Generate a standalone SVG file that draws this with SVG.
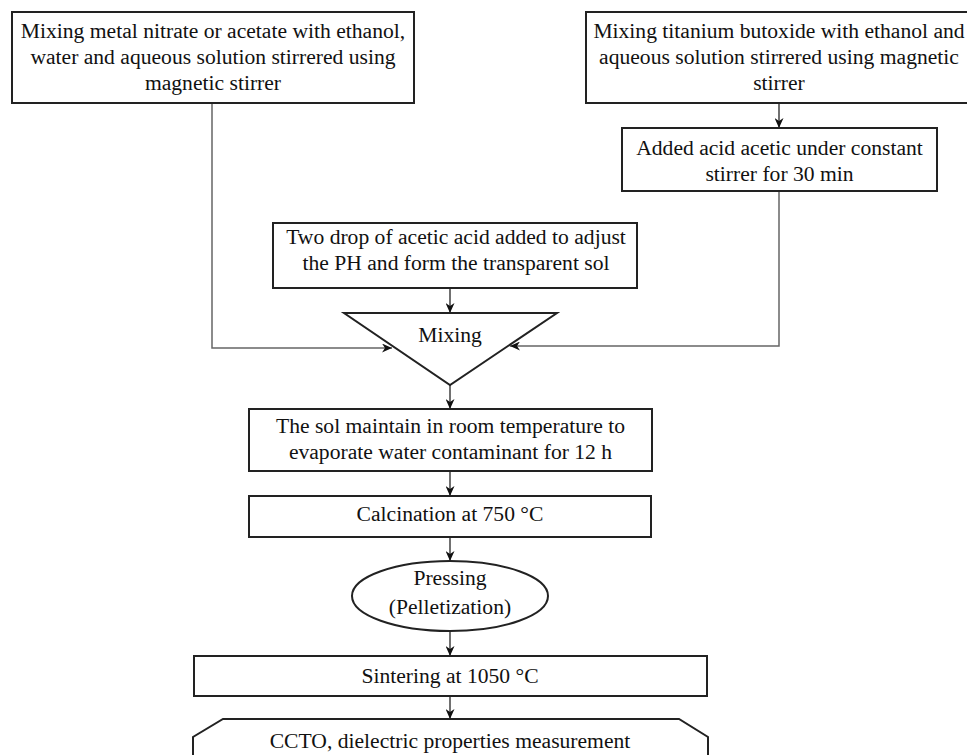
<svg xmlns="http://www.w3.org/2000/svg" width="967" height="755" viewBox="0 0 967 755">
<style>
.box{fill:#fff;stroke:#222;stroke-width:2}
.t{font-family:"Liberation Serif","Times New Roman",serif;font-size:21.6px;fill:#111;text-anchor:middle}
.c{fill:none;stroke:#111;stroke-width:1.2}
.g{fill:none;stroke:#666;stroke-width:1.5}
</style>
<defs>
<marker id="ah" markerUnits="userSpaceOnUse" markerWidth="10" markerHeight="9" refX="10" refY="4.5" orient="auto">
<path d="M0,0 L10,4.5 L0,9 L3,4.5 z" fill="#111"/>
</marker>
</defs>
<rect width="967" height="755" fill="#fff"/>
<g id="connectors">
<polyline class="g" points="212,103 212,348 392,348" marker-end="url(#ah)"/>
<polyline class="g" points="779,191 779,346 510,346" marker-end="url(#ah)"/>
<line class="c" x1="779" y1="103" x2="779" y2="128" marker-end="url(#ah)"/>
<line class="c" x1="450" y1="288" x2="450" y2="313" marker-end="url(#ah)"/>
<line class="c" x1="450" y1="385" x2="450" y2="409" marker-end="url(#ah)"/>
<line class="c" x1="450" y1="471" x2="450" y2="496" marker-end="url(#ah)"/>
<line class="c" x1="450" y1="537" x2="450" y2="561" marker-end="url(#ah)"/>
<line class="c" x1="450" y1="631" x2="450" y2="656" marker-end="url(#ah)"/>
<line class="c" x1="450" y1="696" x2="450" y2="719" marker-end="url(#ah)"/>
</g>
<g id="n1">
<rect class="box" x="12" y="12" width="402" height="91"/>
<text class="t" x="213" y="38">Mixing metal nitrate or acetate with ethanol,</text>
<text class="t" x="213" y="64">water and aqueous solution stirrered using</text>
<text class="t" x="213" y="90">magnetic stirrer</text>
</g>
<g id="n2">
<rect class="box" x="586" y="12" width="390" height="91"/>
<text class="t" x="779" y="38">Mixing titanium butoxide with ethanol and</text>
<text class="t" x="779" y="64">aqueous solution stirrered using magnetic</text>
<text class="t" x="779" y="90">stirrer</text>
</g>
<g id="n3">
<rect class="box" x="622" y="128" width="315" height="63"/>
<text class="t" x="779.5" y="155">Added acid acetic under constant</text>
<text class="t" x="779.5" y="181">stirrer for 30 min</text>
</g>
<g id="n4">
<rect class="box" x="273" y="223" width="364" height="65"/>
<text class="t" x="456" y="244">Two drop of acetic acid added to adjust</text>
<text class="t" x="456" y="270">the PH and form the transparent sol</text>
</g>
<g id="n5">
<polygon class="box" points="344,313 557,313 450,385"/>
<text class="t" x="450" y="342">Mixing</text>
</g>
<g id="n6">
<rect class="box" x="249" y="409" width="403" height="62"/>
<text class="t" x="450.5" y="433">The sol maintain in room temperature to</text>
<text class="t" x="450.5" y="459">evaporate water contaminant for 12 h</text>
</g>
<g id="n7">
<rect class="box" x="249" y="496" width="402" height="41"/>
<text class="t" x="450" y="521">Calcination at 750 °C</text>
</g>
<g id="n8">
<ellipse class="box" cx="450" cy="596" rx="98" ry="35"/>
<text class="t" x="450" y="585">Pressing</text>
<text class="t" x="450" y="614">(Pelletization)</text>
</g>
<g id="n9">
<rect class="box" x="194" y="656" width="513" height="40"/>
<text class="t" x="450" y="683">Sintering at 1050 °C</text>
</g>
<g id="n10">
<polygon class="box" points="223,719 679,719 708,737 708,760 679,778 223,778 193,760 193,737"/>
<text class="t" x="450" y="748">CCTO, dielectric properties measurement</text>
</g>
</svg>
